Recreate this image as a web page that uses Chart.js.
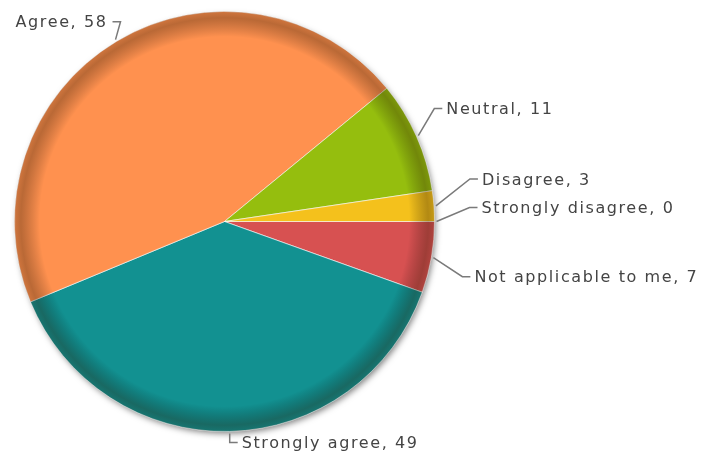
<!DOCTYPE html>
<html>
<head>
<meta charset="utf-8">
<script src="https://cdn.jsdelivr.net/npm/chart.js@4/dist/chart.umd.min.js"></script>
<style>
    body { margin: 0; background: #fff; }
    canvas { display: block; }
</style>
</head>
<body>
<canvas id="pie" width="705" height="459"></canvas>
<script>
// slices listed clockwise starting at 3 o'clock
const categories = ['Not applicable to me', 'Strongly agree', 'Agree', 'Neutral', 'Disagree', 'Strongly disagree'];
const counts = [7, 49, 58, 11, 3, 0];
const sliceColors = ['#d75151', '#129191', '#ff914f', '#95be0e', '#f4c11c', '#c8c8c8'];

// where each label's elbow sits, relative to the rim point of its slice
const labelOffsets = [
    { dx: 29, dy: 19, side: 'right' },
    { dx: 0, dy: 9, side: 'down' },
    { dx: 5, dy: -18, side: 'left' },
    { dx: 16, dy: -27, side: 'right' },
    { dx: 34, dy: -27, side: 'right' },
    { dx: 33, dy: -14, side: 'right' }
];

const shadowPlugin = {
    id: 'pieShadow',
    beforeDatasetsDraw(chart) {
        const arc = chart.getDatasetMeta(0).data[0];
        const ctx = chart.ctx;
        ctx.save();
        ctx.shadowColor = 'rgba(0, 0, 0, 0.5)';
        ctx.shadowBlur = 6;
        ctx.shadowOffsetX = 2;
        ctx.shadowOffsetY = 3;
        ctx.fillStyle = '#888';
        ctx.beginPath();
        ctx.arc(arc.x, arc.y, arc.outerRadius - 1, 0, Math.PI * 2);
        ctx.fill();
        ctx.restore();
    },
    afterDatasetsDraw(chart) {
        // darker bevel round the rim
        const arc = chart.getDatasetMeta(0).data[0];
        const ctx = chart.ctx;
        const r = arc.outerRadius;
        const grad = ctx.createRadialGradient(arc.x, arc.y, 0, arc.x, arc.y, r);
        grad.addColorStop(0, 'rgba(0,0,0,0)');
        grad.addColorStop(0.88, 'rgba(0,0,0,0)');
        grad.addColorStop(0.97, 'rgba(40,20,0,0.32)');
        grad.addColorStop(1, 'rgba(40,20,0,0.22)');
        ctx.save();
        ctx.fillStyle = grad;
        ctx.beginPath();
        ctx.arc(arc.x, arc.y, r, 0, Math.PI * 2);
        ctx.fill();
        ctx.restore();
    }
};

const labelPlugin = {
    id: 'pieLabels',
    afterDraw(chart) {
        const ctx = chart.ctx;
        const meta = chart.getDatasetMeta(0);
        ctx.save();
        ctx.font = '16px "DejaVu Sans"';
        ctx.letterSpacing = '1.6px';
        ctx.fillStyle = '#444';
        ctx.strokeStyle = '#7a7a7a';
        ctx.lineWidth = 1.5;
        ctx.textBaseline = 'middle';
        meta.data.forEach((arc, i) => {
            const mid = (arc.startAngle + arc.endAngle) / 2;
            const ax = arc.x + Math.cos(mid) * (arc.outerRadius + 2);
            const ay = arc.y + Math.sin(mid) * (arc.outerRadius + 2);
            const off = labelOffsets[i];
            const ex = ax + off.dx;
            const ey = ay + off.dy;
            const text = categories[i] + ', ' + counts[i];
            ctx.beginPath();
            ctx.moveTo(ax, ay);
            ctx.lineTo(ex, ey);
            if (off.side === 'left') {
                ctx.lineTo(ex - 8, ey);
                ctx.stroke();
                ctx.textAlign = 'right';
                ctx.fillText(text, ex - 13, ey + 1.5);
            } else {
                ctx.lineTo(ex + 8, ey);
                ctx.stroke();
                ctx.textAlign = 'left';
                ctx.fillText(text, ex + 12, ey + 1.5);
            }
        });
        ctx.restore();
    }
};

new Chart(document.getElementById('pie').getContext('2d'), {
    type: 'pie',
    data: {
        labels: categories,
        datasets: [{
            data: counts,
            backgroundColor: sliceColors,
            borderColor: 'rgba(255, 255, 255, 0.6)',
            borderWidth: 1
        }]
    },
    options: {
        responsive: false,
        animation: false,
        rotation: 90,
        layout: {
            padding: { left: 14, right: 270, top: 11, bottom: 27 }
        },
        plugins: {
            legend: { display: false },
            tooltip: { enabled: false }
        }
    },
    plugins: [shadowPlugin, labelPlugin]
});
</script>
</body>
</html>
